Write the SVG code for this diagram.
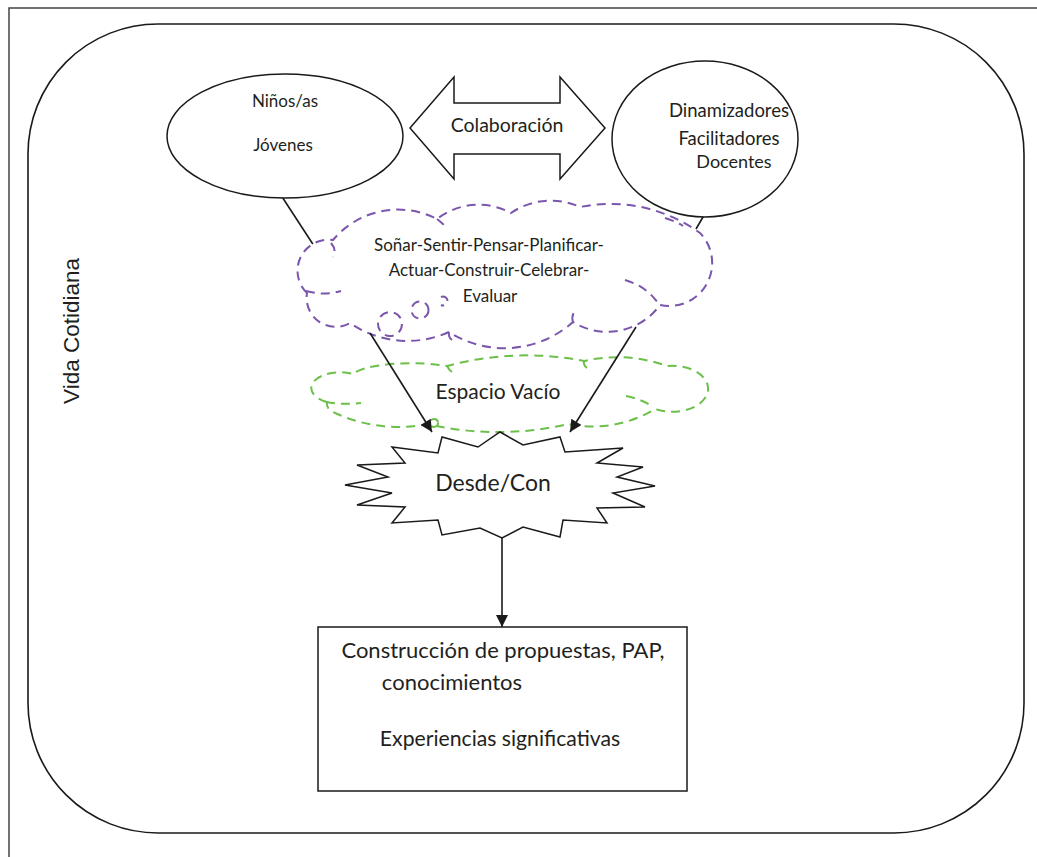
<svg xmlns="http://www.w3.org/2000/svg" width="1037" height="857" viewBox="0 0 1037 857">
  <defs>
    <style>
      .line { fill: none; stroke: #1a1a1a; stroke-width: 1.6; }
      .shape { fill: #ffffff; stroke: #1a1a1a; stroke-width: 1.5; }
      .txt { font-family: Lato, "Open Sans", sans-serif; fill: #231f20; text-anchor: middle; }
      .purple { fill: #ffffff; stroke: #7b56ad; stroke-width: 2; stroke-dasharray: 9 6; }
      .purple-open { fill: none; stroke: #7b56ad; stroke-width: 2; stroke-dasharray: 9 6; }
      .green { fill: #ffffff; stroke: #6cc04a; stroke-width: 2; stroke-dasharray: 9 6; }
      .green-open { fill: none; stroke: #6cc04a; stroke-width: 2; stroke-dasharray: 9 6; }
    </style>
    <marker id="arrowBig" viewBox="0 0 10 10" refX="10" refY="5" markerWidth="14" markerHeight="12" markerUnits="userSpaceOnUse" orient="auto">
      <path d="M0,0 L10,5 L0,10 z" fill="#1a1a1a"/>
    </marker>
  </defs>

  <rect width="1037" height="857" fill="#ffffff"/>

  <!-- page frame -->
  <rect x="9" y="8" width="1050" height="870" fill="none" stroke="#444" stroke-width="1.5"/>

  <!-- container: everyday life -->
  <g id="vida-cotidiana">
    <rect x="28" y="24" width="996" height="809" rx="130" ry="130" fill="none" stroke="#1a1a1a" stroke-width="1.6"/>
    <text transform="translate(79,331) rotate(-90)" x="0" y="0" font-family="'Liberation Sans', Arial, sans-serif" font-size="22.5" fill="#231f20" text-anchor="middle">Vida Cotidiana</text>
  </g>

  <!-- connectors -->
  <g id="connectors">
    <line class="line" x1="275" y1="186" x2="318" y2="252"/>
    <line class="line" x1="713" y1="200" x2="696" y2="229"/>
  </g>

  <g id="ninos">
    <ellipse class="shape" cx="285" cy="136" rx="118" ry="62"/>
    <text class="txt" x="285" y="107" font-size="17">Niños/as</text>
    <text class="txt" x="283" y="151" font-size="17">Jóvenes</text>
  </g>

  <g id="dinamizadores">
    <ellipse class="shape" cx="705" cy="139" rx="93" ry="78"/>
    <text class="txt" x="729" y="117" font-size="18.5">Dinamizadores</text>
    <text class="txt" x="729" y="145" font-size="18.5">Facilitadores</text>
    <text class="txt" x="734" y="168" font-size="18">Docentes</text>
  </g>

  <g id="colaboracion">
    <polygon class="shape" points="410,128 454,77 454,103 560,103 560,77 605,128 560,179 560,154 454,154 454,179"/>
    <text class="txt" x="507" y="132" font-size="19.5">Colaboración</text>
  </g>

  <!-- thought cloud: actions -->
  <g id="acciones">
    <path class="purple" d="M307,293 A31,31 0 0 1 333,240 A85,85 0 0 1 437,219 A68,68 0 0 1 511,213 A70,70 0 0 1 580,207 A152,152 0 0 1 700,233 A43,43 0 0 1 660,305 A65,65 0 0 1 573,322 A103,103 0 0 1 449,332 A101,101 0 0 1 350,323 A29,29 0 0 1 307,293 Z"/>
    <path class="purple-open" d="M306,291 Q324,296 341,291"/>
    <path class="purple-open" d="M331,243 Q337,250 333,257"/>
    <path class="purple-open" d="M437,219 Q441,222 445,226"/>
    <path class="purple-open" d="M665,218 Q675,221 683,226"/>
    <path class="purple-open" d="M625,280 Q646,286 658,303"/>
    <path class="purple-open" d="M573,322 Q571,316 575,311"/>
    <path class="purple-open" d="M449,332 Q448,337 452,340"/>
    <circle class="purple-open" cx="390" cy="324" r="12"/>
    <circle class="purple-open" cx="420" cy="310" r="8.5"/>
    <path class="purple-open" d="M441,297 A4.5,4.5 0 1 1 441,305"/>
    <text class="txt" x="489" y="251" font-size="17">Soñar-Sentir-Pensar-Planificar-</text>
    <text class="txt" x="489" y="276" font-size="17">Actuar-Construir-Celebrar-</text>
    <text class="txt" x="490" y="302" font-size="17">Evaluar</text>
  </g>

  <!-- thought cloud: empty space -->
  <g id="espacio-vacio">
    <path class="green" d="M327,402 A22,12 0 0 1 353,374 A60,14 0 0 1 447,366 A300,300 0 0 1 584,361 A146,146 0 0 1 667,366 A36,23 0 1 1 655,409 A120,120 0 0 1 568,424 A306,306 0 0 1 428,424 A150,150 0 0 1 333,412 A9,9 0 0 1 327,402 Z"/>
    <path class="green-open" d="M326,402 Q343,405 361,403"/>
    <path class="green-open" d="M626,396 Q640,399 650,405"/>
    <path class="green-open" d="M447,366 Q449,370 452,372"/>
    <path class="green-open" d="M584,361 Q583,365 587,368"/>
    <circle class="green-open" cx="434" cy="423" r="4" stroke-dasharray="none"/>
    <text class="txt" x="498" y="399" font-size="21">Espacio Vacío</text>
  </g>

  <g id="desde-con">
    <polygon class="shape" points="500,432 523,445 560,437 565,452 623,448 597,463 643,467 617,477 655,486 613,493 645,507 597,508 607,523 563,520 560,537 523,527 502,538 480,528 442,535 438,520 392,523 405,507 357,505 392,493 345,485 388,477 357,465 405,463 392,447 438,453 442,437 478,447"/>
    <text class="txt" x="493" y="491" font-size="23">Desde/Con</text>
  </g>

  <g id="propuestas">
    <rect class="shape" x="318" y="627" width="369" height="164"/>
    <text class="txt" x="503" y="658" font-size="22">Construcción de propuestas, PAP,</text>
    <text class="txt" x="452" y="690" font-size="22">conocimientos</text>
    <text class="txt" x="500" y="746" font-size="21.2">Experiencias significativas</text>
  </g>

  <!-- arrows converging on the starburst and leading to the box -->
  <g id="arrows">
    <line class="line" x1="370" y1="333" x2="432" y2="432" marker-end="url(#arrowBig)"/>
    <line class="line" x1="636" y1="327" x2="570" y2="432" marker-end="url(#arrowBig)"/>
    <line class="line" x1="502" y1="538" x2="502" y2="627" marker-end="url(#arrowBig)"/>
  </g>
</svg>
